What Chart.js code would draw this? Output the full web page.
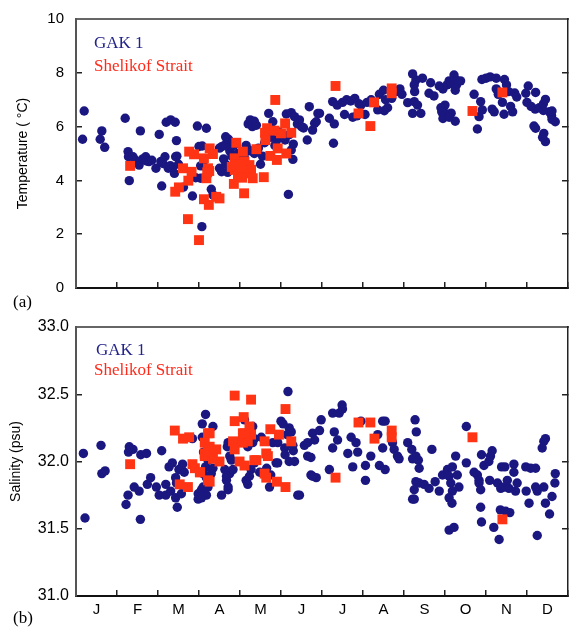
<!DOCTYPE html>
<html><head><meta charset="utf-8">
<script src="https://cdn.jsdelivr.net/npm/chart.js@4/dist/chart.umd.min.js"></script>
<style>
html,body{margin:0;padding:0;background:#fff;}
#wrap{position:relative;width:569px;height:629px;overflow:hidden;background:#fff;}
.cw{position:absolute;left:0;}
.lbl{position:absolute;font-family:'Liberation Serif','Times New Roman',serif;font-size:17px;line-height:17px;white-space:nowrap;}
</style></head>
<body><div id="wrap">
<div class="cw" style="top:0;width:569px;height:300px;"><canvas id="c1" width="569" height="300"></canvas></div>
<div class="cw" style="top:300px;width:569px;height:329px;"><canvas id="c2" width="569" height="329"></canvas></div>
<div class="lbl" style="left:94px;top:34px;color:#23238a">GAK 1</div>
<div class="lbl" style="left:94px;top:57px;color:#ff2a1a">Shelikof Strait</div>
<div class="lbl" style="left:96px;top:341px;color:#23238a">GAK 1</div>
<div class="lbl" style="left:94px;top:361px;color:#ff2a1a">Shelikof Strait</div>
<div class="lbl" style="left:13px;top:293px;color:#000">(a)</div>
<div class="lbl" style="left:13px;top:609px;color:#000">(b)</div>
</div>
<script>
const monthLabels = ['J','F','M','A','M','J','J','A','S','O','N','D'];
const tempTicks = [0, 2, 4, 6, 8, 10];
const salTicks = [31.0, 31.5, 32.0, 32.5, 33.0];

// [month (0-12), temperature °C]
const gakTemp = [
 [0.20,6.58],[0.16,5.53],[0.63,5.84],[0.59,5.53],[0.70,5.23],
 [1.20,6.31],[1.27,5.07],[1.28,4.88],[1.30,3.99],[1.39,4.88],[1.45,4.75],[1.54,4.70],[1.54,4.57],[1.57,5.84],[1.63,4.80],[1.70,4.88],[1.72,4.72],[1.78,4.70],[1.85,4.75],[1.95,4.45],[2.03,5.71],[2.07,4.70],[2.09,3.79],[2.12,4.63],[2.17,4.88],
 [2.20,6.16],[2.31,6.25],[2.42,6.16],[2.25,4.45],[2.30,4.55],[2.35,4.45],[2.40,4.26],[2.45,5.48],[2.43,4.88],[2.46,4.90],[2.50,4.60],[2.62,3.75],[2.84,3.42],[2.96,6.02],[3.00,5.26],[3.04,4.54],[3.04,4.08],[3.07,2.28],[3.08,5.28],[3.11,4.54],[2.92,4.10],
 [3.18,5.94],[3.30,3.67],[3.34,3.46],[3.50,4.45],[3.55,4.32],[3.50,5.20],[3.55,5.25],[3.62,5.30],[3.65,5.62],[3.72,5.53],[3.60,4.80],[3.65,4.60],[3.70,4.30],[3.75,5.10],[3.80,5.25],[3.80,4.90],[3.85,5.30],[3.90,4.70],[3.95,5.00],[4.00,4.60],
 [4.20,6.10],[4.25,6.25],[4.30,6.00],[4.35,6.20],[4.40,6.05],[4.15,5.30],[4.25,5.10],[4.35,5.00],[4.45,5.20],[4.55,4.90],[4.60,5.40],[4.70,6.49],[4.80,6.18],[4.75,5.60],[4.85,5.30],[4.90,5.50],[4.95,5.80],[4.10,4.90],[4.50,4.60],
 [5.13,6.47],[5.25,6.52],[5.33,6.37],[5.18,3.48],[5.25,5.13],[5.29,4.78],[5.10,5.50],[5.20,5.70],[5.30,5.35],[5.40,6.10],[5.45,6.25],[5.50,6.00],[5.64,5.50],[5.69,6.74],[5.77,5.87],[5.82,6.12],[5.86,6.18],[5.90,6.49],[5.94,6.49],[5.55,5.95],
 [6.18,6.31],[6.26,6.93],[6.28,5.38],[6.30,6.10],[6.37,6.80],[6.50,6.90],[6.55,6.45],[6.60,7.00],[6.70,6.95],[6.75,6.35],[6.80,7.05],[6.85,6.40],[6.90,6.85],[6.95,6.80],[7.05,6.45],[7.10,6.90],[7.20,7.00],
 [7.36,6.62],[7.52,6.59],[7.40,7.20],[7.50,7.35],[7.55,7.00],[7.60,6.70],[7.70,7.05],[7.80,7.30],[7.90,7.40],[7.95,7.20],[8.09,6.89],
 [8.21,7.96],[8.45,7.80],[8.29,7.73],[8.25,7.55],[8.26,7.30],[8.25,6.93],[8.33,6.80],[8.21,6.49],[8.41,6.49],[8.61,7.24],[8.73,7.14],[8.65,7.63],[8.86,7.51],[9.00,6.80],[9.00,6.50],[8.95,7.40],
 [9.05,7.55],[9.10,7.70],[9.15,7.60],[9.22,7.92],[9.25,7.75],[9.28,7.55],[9.25,7.35],[9.30,7.70],[9.38,7.70],[8.90,6.70],[8.92,6.55],[8.95,6.30],[9.15,6.50],[9.10,6.35],[9.25,6.20],[9.71,7.20],[9.90,7.75],[9.83,6.37],[9.87,6.93],[9.91,6.62],[9.79,5.91],
 [10.00,7.80],[10.10,7.85],[10.25,7.80],[10.45,7.75],[10.15,6.65],[10.20,6.55],[10.25,7.40],[10.30,7.20],[10.40,6.90],[10.50,7.55],[10.55,7.30],[10.60,6.75],[10.65,6.55],[10.70,7.25],[10.75,7.10],[10.44,6.46],
 [11.03,7.51],[10.97,7.24],[11.21,7.27],[11.00,6.90],[11.10,6.75],[11.20,6.65],[11.30,6.70],[11.40,6.85],[11.40,6.60],[11.55,6.55],[11.60,6.40],[11.69,6.18],[11.61,6.27],[11.61,6.58],[11.17,6.02],[11.21,5.94],[11.41,5.75],[11.45,5.44],[11.38,5.60],[11.45,7.01]
];
const shelTemp = [
 [1.32,4.54],[2.76,5.07],[2.88,4.97],[2.61,4.45],[2.82,4.32],[2.74,3.99],[2.51,3.74],[2.42,3.58],[2.73,2.56],[3.00,1.78],
 [3.26,5.19],[3.34,4.98],[3.12,4.82],[3.22,4.45],[3.25,4.35],[3.18,4.08],[3.20,4.30],[3.12,3.30],[3.24,3.09],[3.42,3.39],[3.50,3.33],
 [3.91,5.40],[3.87,4.82],[4.07,5.07],[3.87,4.39],[3.85,3.87],[4.11,4.70],[4.23,4.57],[4.27,4.39],[4.11,4.26],[4.31,4.08],[4.10,3.52],
 [3.95,4.20],[4.00,4.40],[3.90,4.60],[4.05,4.10],[3.80,4.50],
 [4.40,5.16],[4.58,4.12],[4.66,5.94],[4.61,5.77],[4.62,5.50],[4.84,5.85],[5.00,5.75],[5.10,6.12],[5.25,5.77],[4.74,4.91],[4.92,5.19],[4.90,4.76],[5.13,5.00],[4.86,6.99],
 [6.33,7.51],[7.27,6.90],[6.89,6.49],[7.18,6.02],[7.70,7.42],[7.70,7.24],[10.40,7.27],[9.67,6.58]
];
// [month (0-12), salinity psu]
const gakSal = [
 [0.18,32.06],[0.22,31.58],[0.61,32.12],[0.63,31.91],[0.71,31.93],
 [1.22,31.68],[1.27,31.75],[1.28,32.07],[1.30,32.11],[1.39,32.09],[1.42,31.81],[1.54,31.78],[1.57,31.57],[1.58,32.05],[1.72,32.06],[1.74,31.83],[1.82,31.88],[1.96,31.81],[2.03,31.75],[2.09,32.08],
 [2.19,31.75],[2.19,31.83],[2.27,31.96],[2.31,31.78],[2.35,31.99],[2.43,31.73],[2.43,31.88],[2.47,31.66],[2.51,31.94],[2.57,31.76],[2.64,31.92],[2.60,31.98],[2.45,31.84],[2.84,32.17],[2.98,31.76],[2.98,31.72],[3.06,31.79],[3.10,31.81],[3.08,32.28],[3.16,32.35],[3.08,32.18],[3.11,32.07],[3.22,32.01],[3.16,31.96],[3.10,31.91],[3.18,31.88],[3.18,31.75],[3.06,31.73],
 [3.34,32.26],[3.30,31.91],[3.34,31.95],[3.55,31.75],[3.71,31.79],[3.67,31.86],[3.75,31.91],[3.69,32.11],[3.75,32.04],[3.71,32.14],[3.79,32.01],[3.63,31.94],[3.67,31.89],[3.71,31.81],[3.83,31.94],[3.22,31.81],
 [4.11,32.31],[4.31,32.26],[4.35,32.17],[4.31,32.14],[4.19,32.11],[4.19,31.83],[4.15,31.86],[4.35,31.99],[4.27,31.94],[4.23,31.89],[4.48,31.92],
 [4.52,32.18],[4.80,32.14],[4.72,31.81],[4.65,31.95],[4.75,31.90],[4.88,31.99],[4.92,32.14],[5.00,32.30],[4.92,31.99],
 [5.17,32.52],[5.20,32.25],[5.09,32.10],[5.29,32.12],[5.33,32.00],[5.41,31.75],[5.45,31.75],[5.05,32.28],[5.15,32.20],[5.25,32.22],[5.10,32.05],[5.20,32.00],[5.30,32.08],[5.57,32.12],[5.65,32.14],[5.65,32.04],[5.73,32.03],[5.77,32.21],[5.82,32.16],[5.94,32.23],[5.98,32.31],[5.73,31.90],[5.86,31.88],[5.77,31.89],
 [6.18,31.94],[6.26,32.36],[6.42,32.36],[6.49,32.42],[6.50,32.39],[6.30,32.22],[6.38,32.16],[6.26,32.10],[6.63,32.06],[6.75,31.96],[6.71,32.18],[6.83,32.14],[6.87,32.07],[7.06,31.97],[7.06,31.86],[6.95,32.30],
 [7.19,32.04],[7.40,31.97],[7.54,31.94],[7.36,32.20],[7.48,32.10],[7.48,32.30],[7.54,32.30],[7.72,32.14],[7.76,32.09],[7.84,32.04],[7.88,32.02],
 [8.09,32.14],[8.27,32.31],[8.30,32.22],[8.19,32.09],[8.21,32.02],[8.29,32.04],[8.35,32.01],[8.37,31.95],[8.29,31.85],[8.25,31.79],[8.37,31.84],[8.49,31.83],[8.61,31.80],[8.21,31.72],[8.25,31.72],[8.68,32.09],[8.76,31.85],[8.86,31.78],[8.94,31.90],
 [9.06,31.94],[9.10,31.89],[9.18,31.96],[9.26,32.04],[9.14,31.84],[9.18,31.78],[9.10,31.73],[9.17,31.69],[9.30,31.90],[9.34,31.81],[9.10,31.49],[9.22,31.51],[9.52,31.99],[9.52,32.26],[9.71,31.92],[9.79,31.90],[9.83,31.86],[9.83,31.84],[9.87,31.79],[9.89,32.05],[9.95,31.97],[9.87,31.66],[9.89,31.55],
 [10.07,32.00],[10.11,32.04],[10.15,32.08],[10.19,31.51],[10.32,31.42],[10.09,31.86],[10.28,31.84],[10.36,31.80],[10.44,31.81],[10.52,31.86],[10.56,31.80],[10.38,31.96],[10.46,31.96],[10.68,31.98],[10.68,31.92],[10.76,31.84],[10.72,31.78],[10.35,31.64],[10.48,31.63],[10.58,31.62],
 [10.97,31.96],[11.09,31.95],[11.21,31.95],[10.98,31.78],[11.05,31.69],[11.21,31.81],[11.25,31.78],[11.41,31.81],[11.45,31.69],[11.55,31.61],[11.61,31.74],[11.68,31.84],[11.69,31.91],[11.25,31.45],[11.45,32.17],[11.41,32.15],[11.37,32.10]
];
const shelSal = [
 [1.32,31.98],[2.41,32.23],[2.61,32.17],[2.76,32.18],[2.53,31.83],[2.73,31.81],[2.84,31.98],[2.90,31.95],[3.03,31.92],
 [3.22,32.21],[3.26,32.21],[3.14,32.06],[3.26,32.11],[3.30,32.06],[3.22,31.86],[3.42,32.09],[3.50,32.00],[3.34,32.02],[3.14,32.14],[3.22,32.09],[3.14,32.04],[3.02,31.92],[3.26,31.85],
 [3.87,32.49],[3.87,32.30],[3.83,32.15],[3.87,32.09],[3.99,32.00],[4.11,31.97],[4.09,32.33],[4.07,32.21],[4.23,32.26],[4.27,32.20],[4.19,32.15],[4.27,32.46],[4.40,32.01],[4.07,32.14],[4.11,32.21],[4.35,32.01],
 [4.60,32.15],[4.64,32.06],[4.68,32.04],[4.60,31.91],[4.64,31.88],[4.74,32.24],[4.95,32.20],[4.90,31.85],[5.11,31.81],[5.11,32.39],[5.25,32.15],
 [6.33,31.88],[6.89,32.29],[7.18,32.29],[7.28,32.17],[7.70,32.23],[7.70,32.18],[9.67,32.18],[10.40,31.57]
];

const BLUE = '#1b1781';
const RED = '#ff3414';
const toPts = arr => arr.map(p => ({x: p[0], y: p[1]}));

function makePanel(id, p) {
  const tickGrid = {display: true, drawOnChartArea: false, drawTicks: true, tickLength: -6, color: '#222', lineWidth: 1.5};
  const scales = {
    x: {type: 'linear', position: 'bottom', min: 0, max: 12,
        ticks: {stepSize: 1, display: false},
        grid: tickGrid,
        border: {display: true, color: '#111', width: 2},
        afterFit: s => { s.height = 0; s.paddingLeft = 0; s.paddingRight = 0; }},
    xl: {type: 'linear', position: 'bottom', min: 0, max: 12, display: p.showMonths,
        afterBuildTicks: s => { s.ticks = monthLabels.map((_, i) => ({value: i + 0.5})); },
        ticks: {autoSkip: false, maxRotation: 0, minRotation: 0, padding: 5, color: '#000',
                font: {family: 'Liberation Sans', size: 15},
                callback: (v, i) => monthLabels[i]},
        grid: {display: false, drawTicks: false},
        border: {display: false},
        afterFit: s => { s.height = p.monthAxisHeight; s.paddingLeft = 0; s.paddingRight = 0; }},
    xt: {type: 'linear', position: 'top', min: 0, max: 12,
        ticks: {display: false},
        grid: {display: false, drawTicks: false},
        border: {display: true, color: '#666', width: 2},
        afterFit: s => { s.height = 0; }},
    y: {type: 'linear', position: 'left', min: p.ticks[0], max: p.ticks[p.ticks.length - 1],
        afterBuildTicks: s => { s.ticks = p.ticks.map(v => ({value: v})); },
        ticks: {padding: p.ypad, color: '#000', font: {family: 'Liberation Sans', size: p.yfont},
                callback: v => p.fmt(v)},
        grid: tickGrid,
        border: {display: true, color: '#555', width: 2},
        title: {display: true, text: p.title, color: '#000',
                font: {family: 'Liberation Sans', size: 14}, padding: {top: p.tpad, bottom: 0}},
        afterFit: s => { s.width = 76; s.paddingTop = 0; s.paddingBottom = 0; }},
    yr: {type: 'linear', position: 'right', min: p.ticks[0], max: p.ticks[p.ticks.length - 1],
        afterBuildTicks: s => { s.ticks = p.ticks.map(v => ({value: v})); },
        ticks: {display: false},
        grid: tickGrid,
        border: {display: true, color: '#222', width: 1.5},
        afterFit: s => { s.width = 1; s.paddingTop = 0; s.paddingBottom = 0; }}
  };
  return new Chart(document.getElementById(id), {
    type: 'scatter',
    data: {datasets: [
      {label: 'GAK 1', data: toPts(p.gak), xAxisID: 'x', yAxisID: 'y', order: 1,
       pointStyle: 'circle', pointRadius: 4.7, backgroundColor: BLUE, borderWidth: 0},
      {label: 'Shelikof Strait', data: toPts(p.shel), xAxisID: 'x', yAxisID: 'y', order: 0,
       pointStyle: 'rect', pointRadius: 7, backgroundColor: RED, borderWidth: 0}
    ]},
    options: {
      responsive: false, animation: false, devicePixelRatio: 1, events: [],
      layout: {autoPadding: false, padding: p.padding},
      plugins: {legend: {display: false}, tooltip: {enabled: false}},
      scales
    }
  });
}

makePanel('c1', {gak: gakTemp, shel: shelTemp, ticks: tempTicks, fmt: v => String(v),
  title: 'Temperature ( °C)', tpad: 15, ypad: 18, yfont: 15, showMonths: false, monthAxisHeight: 0,
  padding: {top: 19, left: 0, right: 0, bottom: 12}});
makePanel('c2', {gak: gakSal, shel: shelSal, ticks: salTicks, fmt: v => v.toFixed(1),
  title: 'Salinity (psu)', tpad: 8, ypad: 13, yfont: 16, showMonths: true, monthAxisHeight: 33,
  padding: {top: 27, left: 0, right: 0, bottom: 0}});
</script>
</body></html>
